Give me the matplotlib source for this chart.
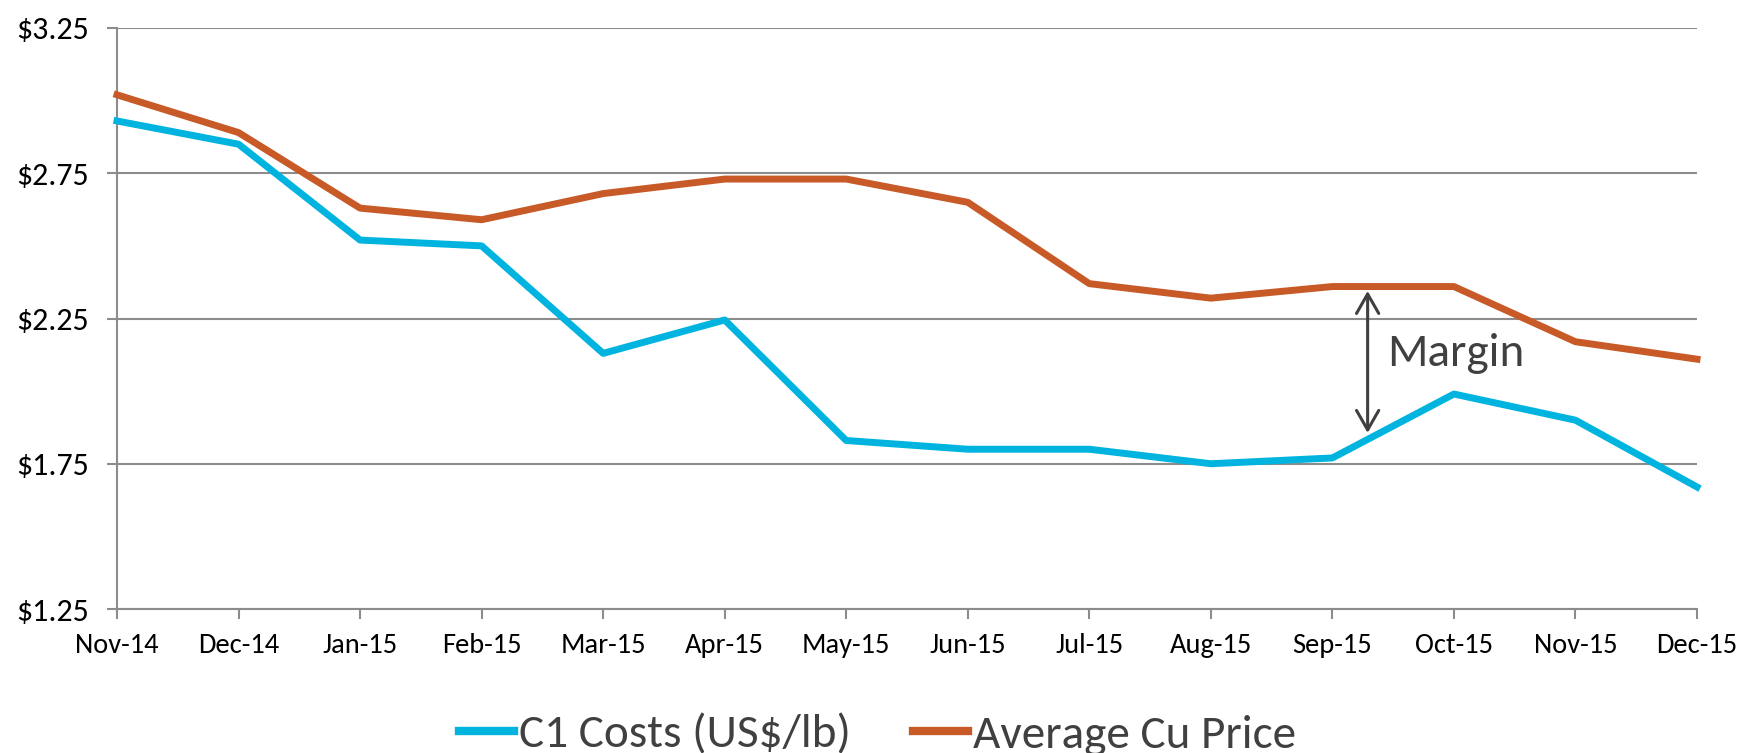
import matplotlib
matplotlib.use("Agg")
import matplotlib.pyplot as plt

months = ["Nov-14", "Dec-14", "Jan-15", "Feb-15", "Mar-15", "Apr-15", "May-15",
          "Jun-15", "Jul-15", "Aug-15", "Sep-15", "Oct-15", "Nov-15", "Dec-15"]
c1_costs = [2.93, 2.85, 2.52, 2.50, 2.13, 2.245, 1.83, 1.80, 1.80, 1.75, 1.77, 1.99, 1.90, 1.67]
cu_price = [3.02, 2.89, 2.63, 2.59, 2.68, 2.73, 2.73, 2.65, 2.37, 2.32, 2.36, 2.36, 2.17, 2.11]
y_ticks = [1.25, 1.75, 2.25, 2.75, 3.25]

cyan = "#00B4DF"
orange = "#C85A28"
grey = "#8C8C8C"
dark = "#404040"

# Carlito is metric-compatible with Calibri
plt.rcParams["font.family"] = ["Carlito", "Lato", "DejaVu Sans"]

fig = plt.figure(figsize=(17.42, 7.53), dpi=100)
ax = fig.add_axes([117 / 1742, 1 - 609 / 753, 1580 / 1742, 581 / 753])

x = list(range(len(months)))
ax.plot(x, c1_costs, color=cyan, lw=5, label="C1 Costs (US$/lb)", clip_on=False, zorder=3)
ax.plot(x, cu_price, color=orange, lw=5, label="Average Cu Price", clip_on=False, zorder=3)

ax.set_xlim(0, len(months) - 1)
ax.set_ylim(1.25, 3.25)
ax.set_yticks(y_ticks)
ax.set_yticklabels(["${:.2f}".format(v) for v in y_ticks])
ax.set_xticks(x)
ax.set_xticklabels(months)

ax.grid(axis="y", color=grey, lw=1.5)
ax.set_axisbelow(True)
for side in ["top", "right"]:
    ax.spines[side].set_visible(False)
for side in ["left", "bottom"]:
    ax.spines[side].set_color(grey)
    ax.spines[side].set_linewidth(1.5)
ax.tick_params(axis="both", direction="out", length=7, width=1.5, color=grey,
               labelcolor="black")
ax.tick_params(axis="y", pad=13, labelsize=23)
ax.tick_params(axis="x", pad=10, labelsize=20.5)

# margin arrow and label
ax.annotate("", xy=(10.29, 2.345), xytext=(10.29, 1.856),
            arrowprops=dict(arrowstyle="<->,head_length=0.7,head_width=0.4",
                            color=dark, lw=2.2, mutation_scale=20,
                            shrinkA=0, shrinkB=0))
ax.text(10.45, 2.13, "Margin", fontsize=34, color=dark, va="center", ha="left")

leg = fig.legend(loc="center", bbox_to_anchor=(0.5037, 0.024), ncol=2, frameon=False,
                 fontsize=34, handlelength=1.17, handletextpad=0.1, columnspacing=1.32,
                 labelcolor=dark)
for h in leg.get_lines():
    h.set_linewidth(6)

fig.savefig("out.png", dpi=100)
